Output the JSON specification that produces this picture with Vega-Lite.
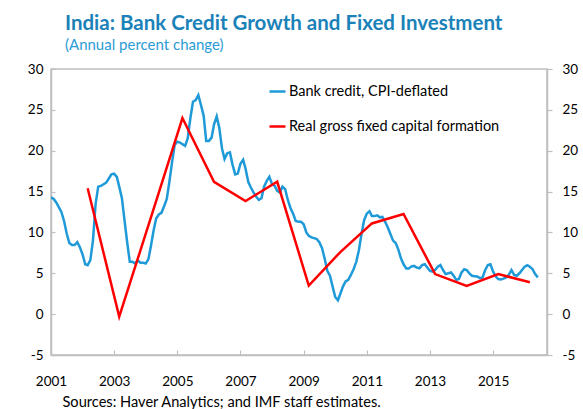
{
  "$schema": "https://vega.github.io/schema/vega-lite/v6.json",
  "width": 496,
  "height": 286,
  "autosize": {"type": "none"},
  "padding": {"left": 51, "top": 69, "right": 36, "bottom": 54},
  "background": "white",
  "title": {
    "text": "India: Bank Credit Growth and Fixed Investment",
    "subtitle": "(Annual percent change)",
    "anchor": "start",
    "frame": "group",
    "dx": 14,
    "offset": 9,
    "font": "Lato",
    "fontSize": 20.5,
    "fontWeight": "bold",
    "color": "#1a82b8",
    "subtitleFont": "Lato",
    "subtitleFontSize": 15,
    "subtitleColor": "#2b9bd6",
    "subtitlePadding": 4
  },
  "config": {
    "view": {"stroke": "#bfbfbf", "strokeWidth": 1.5},
    "font": "Lato",
    "axis": {"labelFont": "Lato", "labelFontSize": 13.5, "labelColor": "#000000", "domainColor": "#bfbfbf", "domainWidth": 1.5, "tickColor": "#bfbfbf", "tickWidth": 1.2, "grid": false}
  },
  "datasets": {
    "credit": [
      {"d":"2001-01-01","v":14.3},{"d":"2001-02-01","v":14.1},{"d":"2001-03-01","v":13.7},{"d":"2001-04-01","v":13.1},{"d":"2001-05-01","v":12.5},{"d":"2001-06-01","v":11.4},{"d":"2001-07-01","v":9.9},{"d":"2001-08-01","v":8.7},{"d":"2001-09-01","v":8.45},{"d":"2001-10-01","v":8.45},{"d":"2001-11-01","v":8.8},{"d":"2001-12-01","v":8.2},
      {"d":"2002-01-01","v":7.3},{"d":"2002-02-01","v":6.1},{"d":"2002-03-01","v":6.0},{"d":"2002-04-01","v":6.6},{"d":"2002-05-01","v":9.0},{"d":"2002-06-01","v":13.5},{"d":"2002-07-01","v":15.6},{"d":"2002-08-01","v":15.7},{"d":"2002-09-01","v":15.9},{"d":"2002-10-01","v":16.1},{"d":"2002-11-01","v":16.6},{"d":"2002-12-01","v":17.1},
      {"d":"2003-01-01","v":17.2},{"d":"2003-02-01","v":16.8},{"d":"2003-03-01","v":15.6},{"d":"2003-04-01","v":14.2},{"d":"2003-05-01","v":11.5},{"d":"2003-06-01","v":8.8},{"d":"2003-07-01","v":6.4},{"d":"2003-08-01","v":6.4},{"d":"2003-09-01","v":6.2},{"d":"2003-10-01","v":6.6},{"d":"2003-11-01","v":6.3},{"d":"2003-12-01","v":6.3},
      {"d":"2004-01-01","v":6.2},{"d":"2004-02-01","v":6.7},{"d":"2004-03-01","v":8.3},{"d":"2004-04-01","v":10.2},{"d":"2004-05-01","v":11.7},{"d":"2004-06-01","v":12.2},{"d":"2004-07-01","v":12.4},{"d":"2004-08-01","v":13.2},{"d":"2004-09-01","v":14.1},{"d":"2004-10-01","v":16.2},{"d":"2004-11-01","v":18.6},{"d":"2004-12-01","v":20.7},
      {"d":"2005-01-01","v":21.1},{"d":"2005-02-01","v":21.0},{"d":"2005-03-01","v":20.8},{"d":"2005-04-01","v":20.6},{"d":"2005-05-01","v":21.5},{"d":"2005-06-01","v":24.0},{"d":"2005-07-01","v":26.0},{"d":"2005-08-01","v":26.2},{"d":"2005-09-01","v":26.8},{"d":"2005-10-01","v":25.6},{"d":"2005-11-01","v":24.3},{"d":"2005-12-01","v":21.2},
      {"d":"2006-01-01","v":21.2},{"d":"2006-02-01","v":21.6},{"d":"2006-03-01","v":23.2},{"d":"2006-04-01","v":24.2},{"d":"2006-05-01","v":22.8},{"d":"2006-06-01","v":20.3},{"d":"2006-07-01","v":19.0},{"d":"2006-08-01","v":19.7},{"d":"2006-09-01","v":19.8},{"d":"2006-10-01","v":18.3},{"d":"2006-11-01","v":17.1},{"d":"2006-12-01","v":17.2},
      {"d":"2007-01-01","v":18.4},{"d":"2007-02-01","v":18.9},{"d":"2007-03-01","v":17.8},{"d":"2007-04-01","v":16.2},{"d":"2007-05-01","v":15.5},{"d":"2007-06-01","v":14.9},{"d":"2007-07-01","v":14.4},{"d":"2007-08-01","v":14.0},{"d":"2007-09-01","v":14.2},{"d":"2007-10-01","v":15.6},{"d":"2007-11-01","v":16.3},{"d":"2007-12-01","v":16.8},
      {"d":"2008-01-01","v":15.9},{"d":"2008-02-01","v":15.7},{"d":"2008-03-01","v":15.1},{"d":"2008-04-01","v":14.9},{"d":"2008-05-01","v":15.6},{"d":"2008-06-01","v":15.3},{"d":"2008-07-01","v":14.0},{"d":"2008-08-01","v":13.0},{"d":"2008-09-01","v":12.3},{"d":"2008-10-01","v":11.4},{"d":"2008-11-01","v":11.3},{"d":"2008-12-01","v":11.3},
      {"d":"2009-01-01","v":11.0},{"d":"2009-02-01","v":10.0},{"d":"2009-03-01","v":9.6},{"d":"2009-04-01","v":9.4},{"d":"2009-05-01","v":9.3},{"d":"2009-06-01","v":9.2},{"d":"2009-07-01","v":8.8},{"d":"2009-08-01","v":8.1},{"d":"2009-09-01","v":6.8},{"d":"2009-10-01","v":5.3},{"d":"2009-11-01","v":4.7},{"d":"2009-12-01","v":3.4},
      {"d":"2010-01-01","v":2.1},{"d":"2010-02-01","v":1.7},{"d":"2010-03-01","v":2.5},{"d":"2010-04-01","v":3.4},{"d":"2010-05-01","v":4.0},{"d":"2010-06-01","v":4.2},{"d":"2010-07-01","v":4.8},{"d":"2010-08-01","v":5.5},{"d":"2010-09-01","v":6.4},{"d":"2010-10-01","v":7.8},{"d":"2010-11-01","v":9.8},{"d":"2010-12-01","v":11.5},
      {"d":"2011-01-01","v":12.3},{"d":"2011-02-01","v":12.6},{"d":"2011-03-01","v":12.0},{"d":"2011-04-01","v":12.0},{"d":"2011-05-01","v":12.1},{"d":"2011-06-01","v":11.85},{"d":"2011-07-01","v":11.9},{"d":"2011-08-01","v":11.3},{"d":"2011-09-01","v":10.6},{"d":"2011-10-01","v":9.8},{"d":"2011-11-01","v":9.0},{"d":"2011-12-01","v":8.7},
      {"d":"2012-01-01","v":7.9},{"d":"2012-02-01","v":6.8},{"d":"2012-03-01","v":6.1},{"d":"2012-04-01","v":5.6},{"d":"2012-05-01","v":5.6},{"d":"2012-06-01","v":5.85},{"d":"2012-07-01","v":5.9},{"d":"2012-08-01","v":5.7},{"d":"2012-09-01","v":5.6},{"d":"2012-10-01","v":6.0},{"d":"2012-11-01","v":6.1},{"d":"2012-12-01","v":5.7},
      {"d":"2013-01-01","v":5.3},{"d":"2013-02-01","v":5.2},{"d":"2013-03-01","v":5.4},{"d":"2013-04-01","v":5.8},{"d":"2013-05-01","v":6.0},{"d":"2013-06-01","v":5.4},{"d":"2013-07-01","v":4.9},{"d":"2013-08-01","v":5.0},{"d":"2013-09-01","v":5.1},{"d":"2013-10-01","v":4.7},{"d":"2013-11-01","v":4.2},{"d":"2013-12-01","v":4.3},
      {"d":"2014-01-01","v":5.1},{"d":"2014-02-01","v":5.5},{"d":"2014-03-01","v":5.4},{"d":"2014-04-01","v":5.0},{"d":"2014-05-01","v":4.7},{"d":"2014-06-01","v":4.65},{"d":"2014-07-01","v":4.6},{"d":"2014-08-01","v":4.4},{"d":"2014-09-01","v":4.5},{"d":"2014-10-01","v":5.4},{"d":"2014-11-01","v":6.0},{"d":"2014-12-01","v":6.1},
      {"d":"2015-01-01","v":5.2},{"d":"2015-02-01","v":4.6},{"d":"2015-03-01","v":4.3},{"d":"2015-04-01","v":4.25},{"d":"2015-05-01","v":4.35},{"d":"2015-06-01","v":4.5},{"d":"2015-07-01","v":4.8},{"d":"2015-08-01","v":5.4},{"d":"2015-09-01","v":4.8},{"d":"2015-10-01","v":4.7},{"d":"2015-11-01","v":5.0},{"d":"2015-12-01","v":5.4},
      {"d":"2016-01-01","v":5.8},{"d":"2016-02-01","v":6.0},{"d":"2016-03-01","v":5.8},{"d":"2016-04-01","v":5.5},{"d":"2016-05-01","v":4.9},{"d":"2016-06-01","v":4.5}
    ],
    "gfcf": [
      {"d":"2002-03-01","v":15.4},{"d":"2003-03-01","v":-0.3},{"d":"2004-03-01","v":11.8},{"d":"2005-03-01","v":24.0},{"d":"2006-03-01","v":16.2},{"d":"2007-03-01","v":13.85},{"d":"2008-03-01","v":16.2},{"d":"2009-03-01","v":3.5},{"d":"2010-03-01","v":7.6},{"d":"2011-03-01","v":11.1},{"d":"2012-03-01","v":12.25},{"d":"2013-03-01","v":4.9},{"d":"2014-03-01","v":3.45},{"d":"2015-03-01","v":4.9},{"d":"2016-03-01","v":3.9}
    ]
  },
  "layer": [
    {
      "data": {"name": "credit"},
      "mark": {"type": "line", "strokeWidth": 2.5, "clip": true},
      "encoding": {
        "x": {"field": "d", "type": "temporal", "scale": {"type": "utc", "domain": ["2001-01-01", "2016-09-15"]},
          "axis": {"orient": "bottom", "title": "Sources: Haver Analytics; and IMF staff estimates.", "titleFont": "Lato", "titleFontSize": 14.6, "titleFontWeight": "normal", "titleColor": "#000000", "titleAnchor": "start", "titleAlign": "left", "titleX": 11, "titleY": 51, "titleBaseline": "alphabetic",
            "values": [{"year":2001},{"year":2002},{"year":2003},{"year":2004},{"year":2005},{"year":2006},{"year":2007},{"year":2008},{"year":2009},{"year":2010},{"year":2011},{"year":2012},{"year":2013},{"year":2014},{"year":2015},{"year":2016}],
            "labelExpr": "utcyear(datum.value) % 2 == 1 ? utcFormat(datum.value, '%Y') : ''", "labelOverlap": false, "labelFlush": false, "tickSize": -5, "labelPadding": 24}},
        "y": {"field": "v", "type": "quantitative", "scale": {"domain": [-5, 30], "nice": false},
          "axis": {"orient": "left", "title": null, "values": [-5, 0, 5, 10, 15, 20, 25, 30], "labelExpr": "datum.value < 0 ? '-' + abs(datum.value) : '' + datum.value", "tickSize": -4, "labelPadding": 12}},
        "color": {"datum": "Bank credit, CPI-deflated", "type": "nominal",
          "scale": {"domain": ["Bank credit, CPI-deflated", "Real gross fixed capital formation"], "range": ["#1f9ad8", "#ff0000"]},
          "legend": {"title": null, "orient": "none", "legendX": 217, "legendY": 13, "direction": "vertical", "symbolType": "stroke", "symbolSize": 256, "symbolStrokeWidth": 2.5, "labelFont": "Lato", "labelFontSize": 14.5, "labelLimit": 0, "labelColor": "#000000", "labelOffset": 2, "rowPadding": 19, "padding": 0}}
      }
    },
    {
      "data": {"name": "gfcf"},
      "mark": {"type": "line", "strokeWidth": 2.5},
      "encoding": {
        "x": {"field": "d", "type": "temporal"},
        "y": {"field": "v", "type": "quantitative", "axis": null},
        "color": {"datum": "Real gross fixed capital formation", "type": "nominal"}
      }
    },
    {
      "mark": {"type": "rule", "color": "#000000", "strokeWidth": 1.2},
      "encoding": {
        "y": {"datum": 0, "type": "quantitative", "axis": {"orient": "right", "title": null, "values": [-5, 0, 5, 10, 15, 20, 25, 30], "labelExpr": "datum.value < 0 ? '-' + abs(datum.value) : '' + datum.value", "tickSize": 5, "labelPadding": 10}}
      }
    }
  ],
  "resolve": {"axis": {"y": "independent"}}
}
